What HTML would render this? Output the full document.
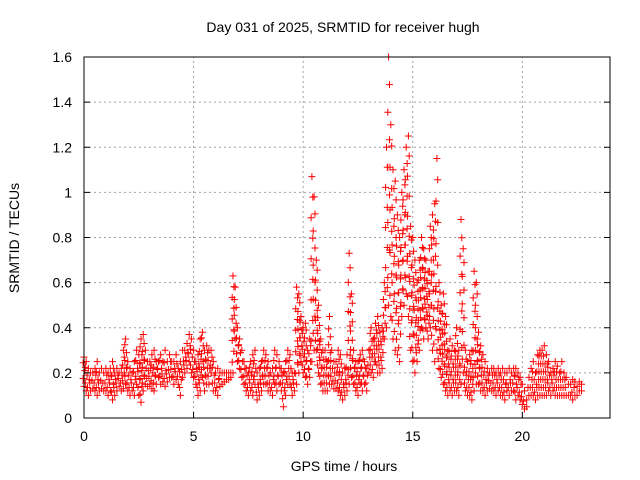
<!DOCTYPE html>
<html><head><meta charset="utf-8"><style>
body{margin:0;background:#fff}
svg{display:block;font-family:"Liberation Sans",sans-serif}
</style></head><body>
<svg id="c" width="640" height="480" viewBox="0 0 640 480" xmlns="http://www.w3.org/2000/svg">
<rect width="640" height="480" fill="#fff"/>
<g id="grid"></g>
<g id="marks"></g>
<rect x="84" y="57" width="526" height="361" fill="none" stroke="#000" stroke-width="1"/>
<g id="ticks"></g>
<text x="343" y="32" font-size="14" text-anchor="middle">Day 031 of 2025, SRMTID for receiver hugh</text>
<text x="344" y="471" font-size="14" text-anchor="middle">GPS time / hours</text>
<text transform="translate(19,238) rotate(-90)" font-size="14" text-anchor="middle">SRMTID / TECUs</text>
</svg>
<script>
const xTicks=[0,5,10,15,20];
const yTicks=[0,0.2,0.4,0.6,0.8,1,1.2,1.4,1.6];
const yTickLabels=["0","0.2","0.4","0.6","0.8","1","1.2","1.4","1.6"];
const tStart=0, tStep=0.1;
const highVals=[.27,.25,.22,.2,.2,.22,.25,.2,.22,.2,
.22,.2,.22,.25,.2,.22,.2,.22,.3,.35,
.25,.22,.2,.25,.3,.28,.35,.37,.3,.25,
.25,.28,.3,.25,.25,.28,.25,.3,.25,.28,
.25,.25,.28,.22,.25,.3,.3,.33,.37,.35,
.3,.25,.28,.35,.38,.3,.32,.3,.3,.25,
.2,.22,.2,.2,.2,.2,.2,.2,.63,.58,
.4,.35,.3,.25,.22,.2,.25,.28,.3,.2,
.22,.25,.3,.28,.25,.2,.22,.3,.28,.25,
.22,.2,.25,.3,.28,.2,.2,.58,.55,.45,
.4,.42,.3,.35,1.07,.98,.7,.5,.35,.3,
.3,.25,.45,.3,.25,.25,.3,.28,.2,.22,
.28,.73,.55,.3,.25,.25,.28,.3,.25,.22,
.3,.4,.35,.42,.45,.38,.4,.6,1.2,1.6,
1.3,1.1,1.05,.9,.8,1.0,1.1,1.2,1.25,.85,
.8,.7,.6,.7,.8,.75,.7,.65,.85,.9,
.95,1.15,.6,.5,.55,.45,.3,.35,.32,.3,
.4,.3,.88,.75,.3,.25,.28,.3,.65,.6,
.38,.32,.28,.25,.22,.2,.22,.22,.2,.22,
.2,.22,.2,.2,.22,.2,.22,.22,.2,.18,
.15,.12,.08,.18,.22,.25,.2,.28,.3,.3,
.32,.28,.25,.2,.22,.25,.23,.2,.25,.2,
.18,.15,.15,.17,.16,.14,.16,.15];
const lowVals=[.14,.12,.1,.12,.13,.12,.1,.12,.13,.12,
.12,.1,.12,.08,.1,.12,.14,.12,.13,.15,
.12,.1,.12,.1,.15,.1,.07,.12,.15,.14,
.15,.13,.12,.15,.18,.15,.16,.14,.16,.18,
.18,.15,.17,.15,.1,.18,.2,.22,.25,.2,
.18,.15,.1,.12,.18,.12,.15,.15,.2,.12,
.12,.1,.14,.15,.16,.17,.17,.18,.2,.35,
.25,.22,.18,.15,.12,.1,.12,.1,.15,.08,
.1,.12,.15,.15,.12,.12,.1,.15,.12,.15,
.12,.05,.1,.15,.15,.1,.12,.15,.2,.25,
.2,.18,.15,.18,.25,.3,.3,.2,.15,.12,
.12,.12,.15,.15,.13,.13,.12,.1,.08,.1,
.12,.15,.18,.15,.12,.1,.15,.12,.15,.12,
.2,.2,.18,.25,.2,.2,.22,.35,.4,.5,
.45,.35,.3,.28,.25,.45,.5,.55,.45,.3,
.25,.2,.25,.3,.4,.35,.4,.35,.4,.3,
.25,.3,.22,.18,.15,.12,.1,.12,.1,.12,
.12,.1,.15,.2,.12,.1,.1,.08,.12,.15,
.15,.12,.12,.1,.12,.13,.12,.12,.1,.12,
.1,.1,.08,.12,.1,.12,.12,.08,.1,.08,
.06,.04,.05,.1,.1,.1,.08,.1,.1,.1,
.1,.1,.12,.1,.12,.1,.1,.1,.1,.1,
.1,.1,.1,.08,.1,.1,.12,.12];
const NS="http://www.w3.org/2000/svg";
const X0=84,X1=610,Y0=418,Y1=57,XMAX=24,YMAX=1.6;
function sx(t){return X0+t/XMAX*(X1-X0);}
function sy(v){return Y0-v/YMAX*(Y0-Y1);}
function mk(tag,attrs,parent){const e=document.createElementNS(NS,tag);for(const k in attrs)e.setAttribute(k,attrs[k]);parent.appendChild(e);return e;}
const grid=document.getElementById('grid'),ticks=document.getElementById('ticks'),marks=document.getElementById('marks');
xTicks.forEach(t=>{
 const x=sx(t);
 if(t>0){const g=mk('line',{x1:x,x2:x,y1:Y0,y2:Y1,stroke:'#a0a0a0','stroke-dasharray':'2,3'},grid);
 
 }
 const l=mk('line',{x1:x,x2:x,y1:Y0,y2:Y0-6,stroke:'#000'},ticks);
 
 
 const tx=mk('text',{x:x,y:Y0+23,'font-size':14,'text-anchor':'middle'},ticks);tx.textContent=String(t);
 
 
});
yTicks.forEach((v,i)=>{
 const y=sy(v);
 if(v>0&&v<YMAX){const g=mk('line',{x1:X0,x2:X1,y1:y,y2:y,stroke:'#a0a0a0','stroke-dasharray':'2,3'},grid);
 
 }
 const l=mk('line',{x1:X0,x2:X0+6,y1:y,y2:y,stroke:'#000'},ticks);
 
 
 const l2=mk('line',{x1:X1,x2:X1-6,y1:y,y2:y,stroke:'#000'},ticks);
 
 
 const tx=mk('text',{x:X0-12,y:y+5,'font-size':14,'text-anchor':'end'},ticks);tx.textContent=yTickLabels[i];
 
 
});
let d='';
function plus(t,v){const x=sx(t),y=sy(v);d+=`M${(x-3.5).toFixed(1)} ${y.toFixed(1)}h7M${x.toFixed(1)} ${(y-3.5).toFixed(1)}v7`;}
highVals.forEach((h,i)=>{
 const t=tStart+i*tStep,lo=lowVals[i];
 plus(t,lo);plus(t,h);
 const step=Math.max(0.035,(h-lo)/9);
 let k=0;
 for(let v=lo+step;v<h-0.02;v+=step){plus(t+((k%2)?0.04:-0.04),v);k++;}
});
const p=mk('path',{d:d,stroke:'#ff0000','stroke-width':1,fill:'none'},marks);


</script>
</body></html>
